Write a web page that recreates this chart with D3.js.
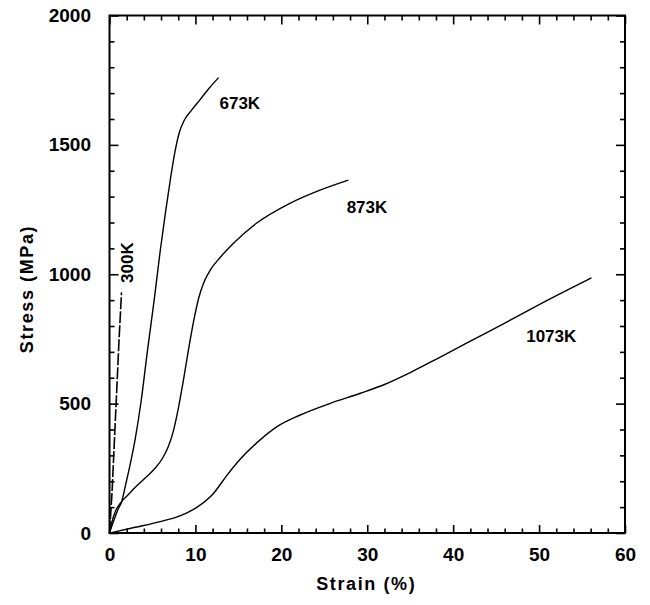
<!DOCTYPE html>
<html>
<head>
<meta charset="utf-8">
<script src="https://cdn.jsdelivr.net/npm/d3@7"></script>
<style>
  body { margin: 0; background: #fff; }
  svg { display: block; }
  text { font-family: "Liberation Sans", Arial, sans-serif; font-weight: bold; fill: #000; }
</style>
</head>
<body>
<div id="chart"></div>
<script>
// strain (%) / stress (MPa)
const curve300 = [[0, 0], [0.3, 160], [0.7, 450], [1.1, 740], [1.4, 930]];
const curve673 = [[0, 0], [0.5, 48], [1.0, 92], [1.42, 121], [1.9, 190], [2.5, 280], [3.0, 365],
  [3.7, 514], [4.4, 700], [5.2, 900], [5.9, 1090], [6.5, 1235], [7.1, 1370], [7.6, 1470],
  [8.1, 1545], [8.7, 1595], [9.6, 1636], [10.5, 1673], [11.5, 1715], [12.7, 1760]];
const curve873 = [[0, 0], [0.3, 45], [0.7, 85], [1.1, 108], [1.5, 125], [2.0, 142], [3.0, 177],
  [4.3, 217], [5.3, 250], [6.1, 285], [6.8, 330], [7.4, 390], [8.0, 480], [8.6, 590],
  [9.2, 710], [9.8, 820], [10.4, 910], [11.0, 970], [11.8, 1020], [12.8, 1062], [14.4, 1119],
  [17.1, 1197], [21.0, 1274], [24.5, 1325], [27.8, 1364]];
const curve1073 = [[0, 0], [3, 22], [5.9, 44], [8.2, 66], [10.2, 100], [12.1, 153], [13.6, 220],
  [15.2, 285], [17.5, 359], [19.5, 411], [22.2, 456], [25.7, 501], [29.2, 540], [32, 574],
  [35, 620], [38.5, 680], [42.5, 750], [46.5, 820], [51, 900], [56.1, 986]];

const xMajor = [0, 10, 20, 30, 40, 50, 60];
const xMinor = d3.range(0, 61, 2).filter(v => v % 10 !== 0);
const yMajor = [0, 500, 1000, 1500, 2000];
const yMinor = d3.range(0, 2001, 100).filter(v => v % 500 !== 0);

const labels = [
  { text: "673K", x: 12.8, y: 1640 },
  { text: "873K", x: 27.6, y: 1236 },
  { text: "1073K", x: 48.5, y: 740 }
];

const width = 650, height = 605;
const plotL = 109.5, plotR = 625, plotT = 15.5, plotB = 533;

const svg = d3.select("#chart").append("svg")
  .attr("width", width)
  .attr("height", height);

const x = d3.scaleLinear().domain([0, 60]).range([plotL, plotR]);
const y = d3.scaleLinear().domain([0, 2000]).range([plotB, plotT]);

function drawAxis(makeAxis, tx, ty, major, minor, majLen, minLen, withLabels, pad) {
  const gMaj = svg.append("g").attr("transform", `translate(${tx},${ty})`)
    .call(makeAxis().tickValues(major).tickSizeInner(-majLen).tickSizeOuter(0)
      .tickPadding(pad).tickFormat(withLabels ? d3.format("d") : ""));
  const gMin = svg.append("g").attr("transform", `translate(${tx},${ty})`)
    .call(makeAxis().tickValues(minor).tickSizeInner(-minLen).tickSizeOuter(0).tickFormat(""));
  [gMaj, gMin].forEach(g => {
    g.select(".domain").remove();
    g.selectAll("line").attr("stroke", "#000").attr("stroke-width", 1.6);
  });
  gMaj.selectAll("text").style("font-size", "19px").attr("fill", "#000");
  return gMaj;
}

drawAxis(() => d3.axisBottom(x), 0, plotB, xMajor, xMinor, 8, 4.5, true, 15);
drawAxis(() => d3.axisTop(x), 0, plotT, xMajor, xMinor, 9, 5, false, 0);
drawAxis(() => d3.axisLeft(y), plotL, 0, yMajor, yMinor, 9, 5, true, 18.5);
drawAxis(() => d3.axisRight(y), plotR, 0, yMajor, yMinor, 9, 5, false, 0);

// frame
svg.append("rect")
  .attr("x", plotL).attr("y", plotT)
  .attr("width", plotR - plotL).attr("height", plotB - plotT)
  .attr("fill", "none")
  .attr("stroke", "#000")
  .attr("stroke-width", 2);

const smooth = d3.line()
  .x(d => x(d[0]))
  .y(d => y(d[1]))
  .curve(d3.curveMonotoneX);

[curve673, curve873, curve1073].forEach(c => {
  svg.append("path")
    .datum(c)
    .attr("d", smooth)
    .attr("fill", "none")
    .attr("stroke", "#000")
    .attr("stroke-width", 1.4);
});

svg.append("path")
  .datum(curve300)
  .attr("d", d3.line().x(d => x(d[0])).y(d => y(d[1])))
  .attr("fill", "none")
  .attr("stroke", "#000")
  .attr("stroke-width", 1.6)
  .attr("stroke-dasharray", "12,2");

labels.forEach(l => {
  svg.append("text")
    .attr("x", x(l.x))
    .attr("y", y(l.y))
    .style("font-size", "17px")
    .text(l.text);
});

svg.append("text")
  .attr("transform", `translate(${x(2.75)},${y(1045)}) rotate(-90)`)
  .attr("text-anchor", "middle")
  .style("font-size", "17px")
  .text("300K");

svg.append("text")
  .attr("x", (plotL + plotR) / 2 - 1)
  .attr("y", 590)
  .attr("text-anchor", "middle")
  .style("font-size", "18px")
  .style("letter-spacing", "1.6px")
  .text("Strain (%)");

svg.append("text")
  .attr("transform", `translate(33,289) rotate(-90)`)
  .attr("text-anchor", "middle")
  .style("font-size", "18px")
  .style("letter-spacing", "1.6px")
  .text("Stress (MPa)");
</script>
</body>
</html>
